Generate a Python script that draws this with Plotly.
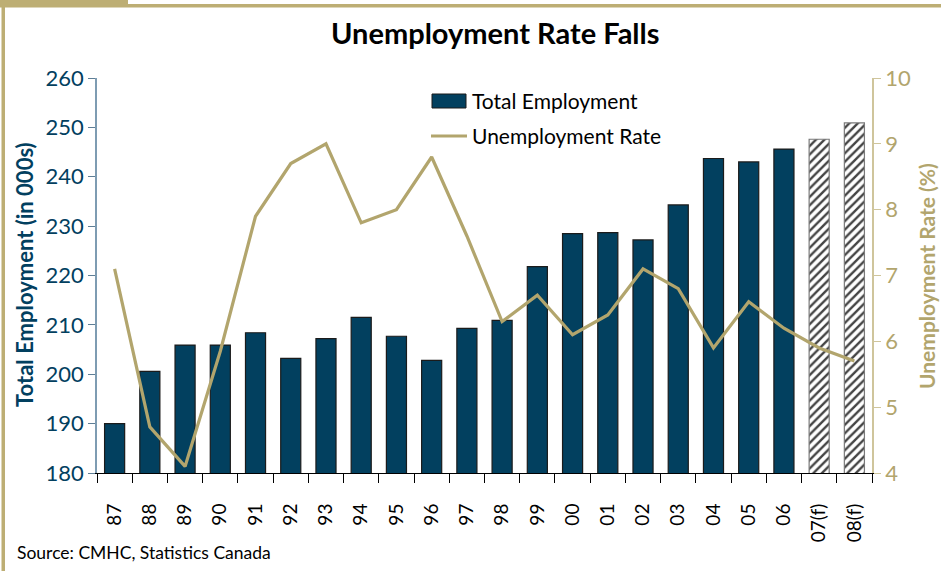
import plotly.graph_objects as go

years = ["87", "88", "89", "90", "91", "92", "93", "94", "95", "96", "97",
         "98", "99", "00", "01", "02", "03", "04", "05", "06", "07(f)", "08(f)"]
employment = [190.0, 200.6, 205.9, 205.9, 208.4, 203.2, 207.2, 211.5, 207.7, 202.8, 209.3,
              210.9, 221.8, 228.5, 228.7, 227.2, 234.3, 243.7, 243.0, 245.6, 247.6, 250.9]
unemployment = [7.1, 4.7, 4.1, 5.85, 7.9, 8.7, 9.0, 7.8, 8.0, 8.8, 7.6,
                6.3, 6.7, 6.1, 6.4, 7.1, 6.8, 5.9, 6.6, 6.2, 5.9, 5.7]
forecast = [False] * 20 + [True, True]

NAVY = "#02405F"
GOLD = "#B2A56D"
FONT = "Lato"

# plot area in pixels
L, R, T, B = 97, 872, 78, 473
W, H = 941, 571
def px(x):
    return (x - L) / (R - L)
def py(y):
    return (B - y) / (B - T)

bar_colors = ["white" if f else NAVY for f in forecast]
bar_line = ["#7a7a7a" if f else "#1b1b1b" for f in forecast]
patterns = ["/" if f else "" for f in forecast]

fig = go.Figure()
fig.add_trace(go.Bar(
    x=years, y=employment, name="Total Employment",
    marker=dict(color=bar_colors,
                line=dict(color=bar_line, width=1.2),
                pattern=dict(shape=patterns, fgcolor="#0C4A70", bgcolor="white",
                             size=6, solidity=0.4, fgopacity=1)),
    yaxis="y", showlegend=False,
))
fig.add_trace(go.Scatter(
    x=years, y=unemployment, name="Unemployment Rate",
    mode="lines", line=dict(color=GOLD, width=3.2),
    yaxis="y2", showlegend=False,
))

fig.update_layout(
    width=W, height=H,
    margin=dict(l=L, r=W - R, t=T, b=H - B),
    paper_bgcolor="white", plot_bgcolor="white",
    font=dict(family=FONT, size=18, color="black"),
    showlegend=False,
    bargap=0.43,
    xaxis=dict(type="category", showgrid=False, showline=True, linecolor="black",
               linewidth=1, ticks="outside", ticklen=9, tickcolor="black",
               tickson="boundaries", tickangle=-90, ticklabelstandoff=22,
               tickfont=dict(family=FONT, size=19, color="black")),
    yaxis=dict(range=[180, 260], dtick=10, showgrid=False, showline=True,
               linecolor="#7E9CB2", linewidth=1.5, ticks="outside", ticklen=7,
               tickcolor="#5E7E96", tickfont=dict(family=FONT, size=22, color=NAVY),
               zeroline=False),
    yaxis2=dict(range=[4, 10], dtick=1, overlaying="y", side="right",
                showgrid=False, showline=True, linecolor="#CFC59C", linewidth=1.5,
                ticks="outside", ticklen=7, tickcolor="#CFC59C",
                tickfont=dict(family=FONT, size=22, color=GOLD), zeroline=False),
)

fig.add_annotation(text="<b>Unemployment Rate Falls</b>", xref="paper", yref="paper",
                   x=px(495), y=py(32), xanchor="center", yanchor="middle",
                   showarrow=False, font=dict(family=FONT, size=29, color="black"))
fig.add_annotation(text="<b>Total Employment (in 000s)</b>", xref="paper", yref="paper",
                   x=px(24), y=py(275), xanchor="center", yanchor="middle", textangle=-90,
                   showarrow=False, font=dict(family=FONT, size=22, color=NAVY))
fig.add_annotation(text="<b>Unemployment Rate (%)</b>", xref="paper", yref="paper",
                   x=px(926), y=py(276), xanchor="center", yanchor="middle", textangle=-90,
                   showarrow=False, font=dict(family=FONT, size=21, color=GOLD))
fig.add_annotation(text="Source: CMHC, Statistics Canada", xref="paper", yref="paper",
                   x=px(15), y=py(552), xanchor="left", yanchor="middle",
                   showarrow=False, font=dict(family=FONT, size=17.5, color="black"))

# legend (drawn manually to match the wide swatches)
fig.add_shape(type="rect", xref="paper", yref="paper", x0=px(432), x1=px(466),
              y0=py(108), y1=py(94), fillcolor=NAVY, line=dict(color="#1b1b1b", width=1))
fig.add_shape(type="line", xref="paper", yref="paper", x0=px(431), x1=px(467),
              y0=py(136), y1=py(136), line=dict(color=GOLD, width=3.2))
fig.add_annotation(text="Total Employment", xref="paper", yref="paper",
                   x=px(470), y=py(101), xanchor="left", yanchor="middle",
                   showarrow=False, font=dict(family=FONT, size=21, color="black"))
fig.add_annotation(text="Unemployment Rate", xref="paper", yref="paper",
                   x=px(470), y=py(135), xanchor="left", yanchor="middle",
                   showarrow=False, font=dict(family=FONT, size=21, color="black"))

# decorative frame
FR = "#BDAE74"
fig.add_shape(type="rect", xref="paper", yref="paper", x0=px(0), x1=px(128),
              y0=py(0), y1=py(7), fillcolor=FR, line=dict(width=0), layer="above")
fig.add_shape(type="rect", xref="paper", yref="paper", x0=px(0), x1=px(941),
              y0=py(4), y1=py(7.5), fillcolor=FR, line=dict(width=0), layer="above")
fig.add_shape(type="rect", xref="paper", yref="paper", x0=px(1.5), x1=px(5),
              y0=py(0), y1=py(571), fillcolor=FR, line=dict(width=0), layer="above")

fig.write_html("out.html")
